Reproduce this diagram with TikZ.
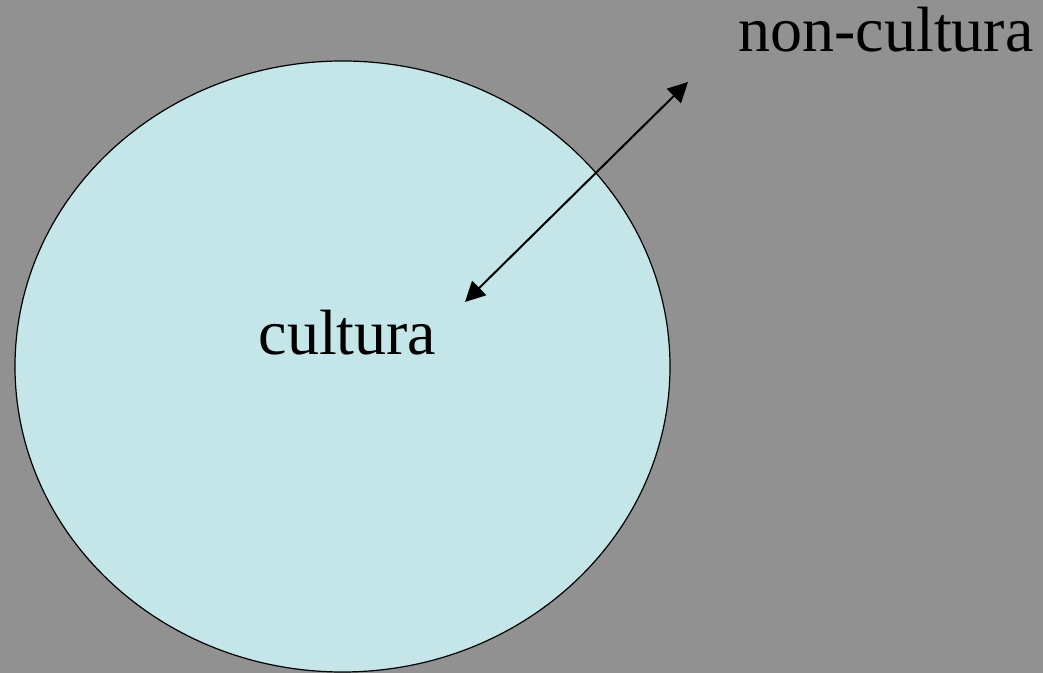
\documentclass[tikz,border=0pt]{standalone}
\usepackage{fontspec}
\setmainfont{Liberation Serif}
\usetikzlibrary{shapes.geometric, arrows.meta, positioning}
\definecolor{slidegray}{RGB}{145,145,145}
\definecolor{paleblue}{RGB}{196,230,232}

\begin{document}
\begin{tikzpicture}[x=0.5pt, y=0.5pt, >={Triangle[length=10pt, width=10pt]},
  area/.style={ellipse, draw, line width=0.6pt, fill=paleblue,
    minimum width=327.5pt, minimum height=305.5pt, inner sep=0pt},
  label/.style={font=\fontsize{32}{38}\selectfont, anchor=base, inner sep=0pt}]
  \fill[slidegray] (0,0) rectangle (1043,673);
  \useasboundingbox (0,0) rectangle (1043,673);
  \node[area] (world) at (342.5,306.5) {};
  \node[label] (inside) at (347.5,318) {cultura};
  \node[label] (outside) at (886,621) {non-cultura};

  \coordinate (near) at (465,371);
  \coordinate (far) at (688,591);
  \draw[<->, line width=1pt] (near) -- (far);
\end{tikzpicture}
\end{document}
